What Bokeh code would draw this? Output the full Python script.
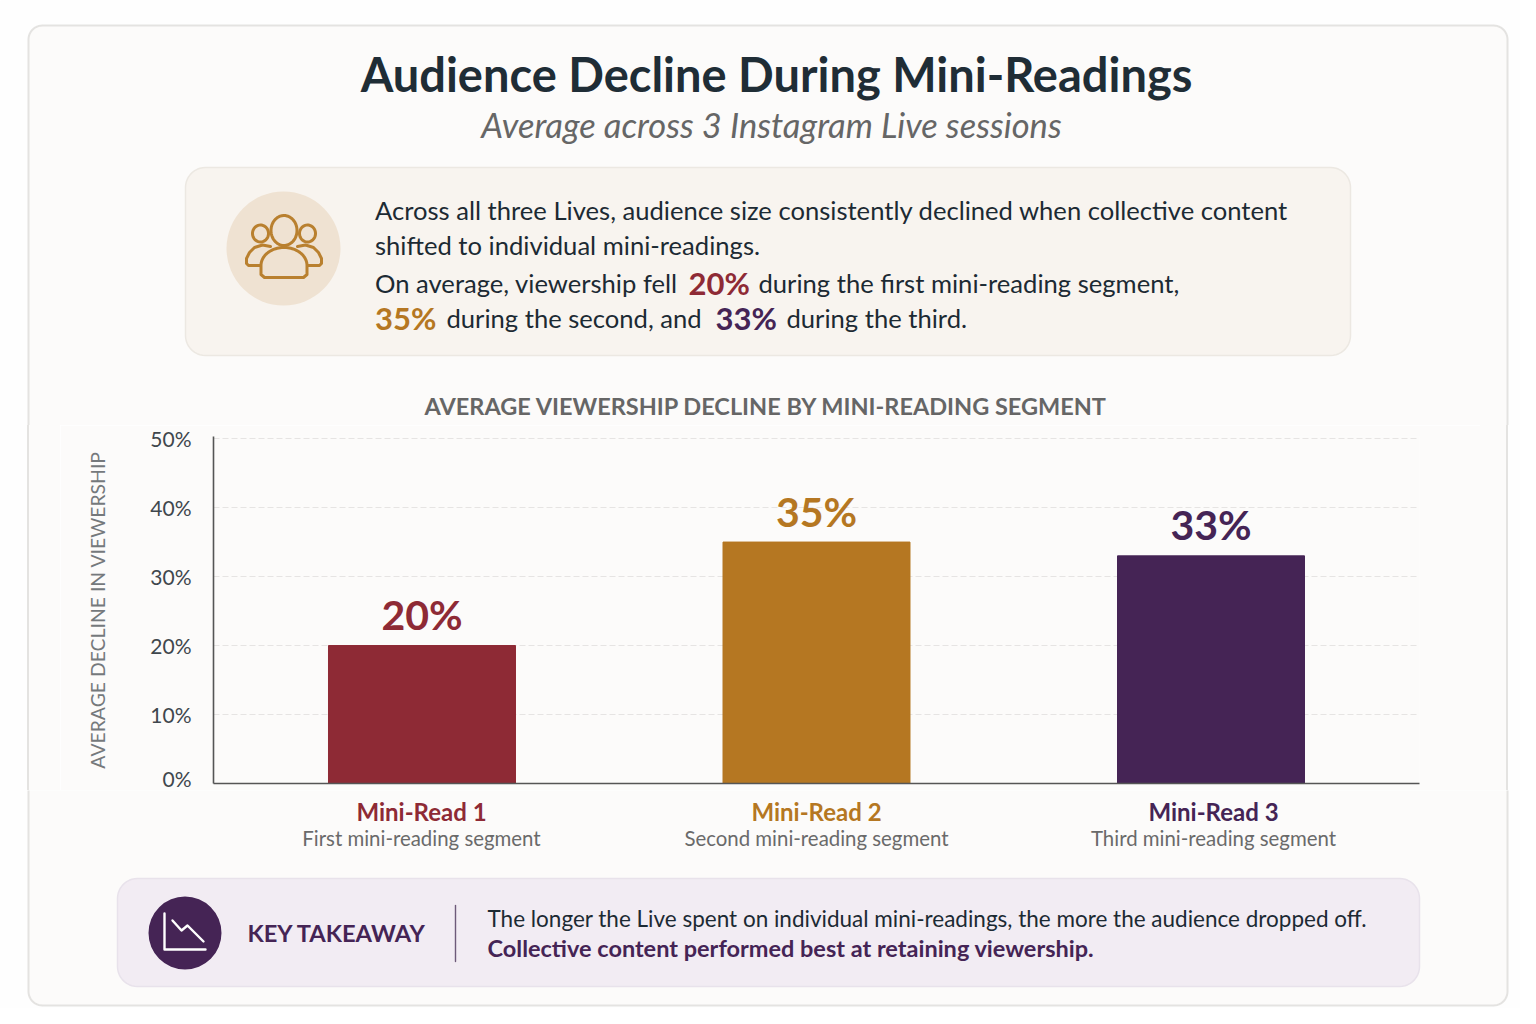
import numpy as np
from bokeh.plotting import figure
from bokeh.layouts import column, row
from bokeh.models import ColumnDataSource, Div, FactorRange, Range1d, FixedTicker
from bokeh.core.properties import value
from bokeh.embed import file_html
from bokeh.resources import INLINE

categories = ["Mini-Read 1", "Mini-Read 2", "Mini-Read 3"]
descriptions = ["First mini-reading segment", "Second mini-reading segment", "Third mini-reading segment"]
declines = [20, 35, 33]
y_ticks = [0, 10, 20, 30, 40, 50]
y_tick_labels = {t: f"{t}%" for t in y_ticks}

RED, ORANGE, PURPLE = "#8E2A35", "#B57722", "#452455"
INK = "#1C2A33"
CARD = "#FCFBFA"
OUTER = "#FEFEFE"
EDGE = "#E4E3E1"
colors = [RED, ORANGE, PURPLE]
FONT = "Lato"
W, H = 1520, 1008
TOP_END, CHART_END, L_END, R_START = 425, 790, 60, 1480


def rounded(x0, y0, x1, y1, r):
    xs, ys = [], []
    for cx, cy, a in [(x1 - r, y0 + r, -90), (x1 - r, y1 - r, 0), (x0 + r, y1 - r, 90), (x0 + r, y0 + r, 180)]:
        t = np.radians(np.linspace(a, a + 90, 12))
        xs += list(cx + r * np.cos(t))
        ys += list(cy + r * np.sin(t))
    return xs, ys


def deco(x0, x1, y0, y1):
    f = figure(width=x1 - x0, height=y1 - y0, output_backend="svg", toolbar_location=None,
               x_range=Range1d(x0, x1), y_range=Range1d(y1, y0), min_border=0,
               x_axis_location=None, y_axis_location=None,
               background_fill_color=OUTER, border_fill_color=OUTER)
    f.outline_line_color = None
    f.grid.visible = False
    f.patch(*rounded(28, 25, 1507, 1005, 14), fill_color=CARD, line_color=EDGE, line_width=2)
    return f


def panel(f, x0, y0, x1, y1, fill, edge, r=20):
    f.patch(*rounded(x0, y0, x1, y1, r), fill_color=fill, line_color=edge, line_width=1.5)


def txt(f, x, y, s, size, color=INK, style="normal", align="left"):
    f.text(x=[x], y=[y], text=[s], text_font=value(FONT), text_font_size=f"{size}px",
           text_color=color, text_font_style=style, text_align=align, text_baseline="middle")


def stroke(f, pts, color, lw=3):
    f.line([a for a, _ in pts], [b for _, b in pts], line_color=color, line_width=lw,
           line_join="round", line_cap="round")


def ell(cx, cy, rx, ry, t0=0, t1=2 * np.pi):
    t = np.linspace(t0, t1, 48)
    return list(zip(cx + rx * np.cos(t), cy + ry * np.sin(t)))


# ---- header ----
top = deco(0, W, 0, TOP_END)
txt(top, 776, 73, "Audience Decline During Mini-Readings", 47, "#1F2D36", "bold", "center")
txt(top, 771, 124, "Average across 3 Instagram Live sessions", 34.5, "#666666", "italic", "center")
panel(top, 185, 167, 1350, 355, "#F8F4EF", "#ECE8E2")
top.circle(x=[283], y=[248], radius=57, fill_color="#EFE2D2", line_color=None)
txt(top, 374.5, 209, "Across all three Lives, audience size consistently declined when collective content", 25.6)
txt(top, 374.5, 244, "shifted to individual mini-readings.", 25.6)
txt(top, 374.5, 282, "On average, viewership fell", 25.6)
txt(top, 688, 282, "20%", 31, RED, "bold")
txt(top, 758, 282, "during the first mini-reading segment,", 25.6)
txt(top, 374.5, 317, "35%", 31, ORANGE, "bold")
txt(top, 446, 317, "during the second, and", 25.6)
txt(top, 715, 317, "33%", 31, PURPLE, "bold")
txt(top, 786, 317, "during the third.", 25.6)
txt(top, 766, 405, "AVERAGE VIEWERSHIP DECLINE BY MINI-READING SEGMENT", 23.5, "#666666", "bold", "center")
IC = "#B9802F"
stroke(top, ell(283.5, 230, 13, 15), IC)
stroke(top, ell(260, 233, 8, 8.5), IC)
stroke(top, ell(307, 233, 8, 8.5), IC)
stroke(top, ell(283.5, 265, 23, 18, np.pi, 2 * np.pi) + [(306.5, 274), (303, 277), (264, 277), (260.5, 274), (260.5, 265)], IC)
stroke(top, [(270, 246), (262, 244.5), (254, 247), (249, 252), (246, 258), (246, 263), (248, 265), (260, 265)], IC)
stroke(top, [(297, 246), (305, 244.5), (313, 247), (318, 252), (321, 258), (321, 263), (319, 265), (307, 265)], IC)

# ---- chart ----
p = figure(width=R_START - L_END, height=CHART_END - TOP_END, output_backend="svg", toolbar_location=None,
           x_range=FactorRange(factors=categories, range_padding=0.0285, range_padding_units="absolute"),
           y_range=Range1d(0, 50.3), min_border_left=213 - L_END, min_border_right=R_START - 1419,
           min_border_top=436 - TOP_END, min_border_bottom=CHART_END - 783,
           background_fill_color=CARD, border_fill_color=CARD)
p.outline_line_color = None
p.xgrid.visible = False
p.ygrid.grid_line_color = "#E6E4E3"
p.ygrid.grid_line_dash = "6 3"
p.ygrid.grid_line_width = 1.2
p.yaxis.ticker = FixedTicker(ticks=y_ticks)
p.yaxis.major_label_overrides = y_tick_labels
p.yaxis.major_tick_line_color = None
p.yaxis.minor_tick_line_color = None
p.yaxis.major_label_standoff = 16
p.yaxis.major_label_text_font = FONT
p.yaxis.major_label_text_font_size = "21px"
p.yaxis.major_label_text_color = "#3F474D"
p.yaxis.axis_line_color = "#555555"
p.yaxis.axis_line_width = 1.6
p.yaxis.axis_label = "AVERAGE DECLINE IN VIEWERSHIP"
p.yaxis.axis_label_text_font = FONT
p.yaxis.axis_label_text_font_style = "normal"
p.yaxis.axis_label_text_font_size = "19.4px"
p.yaxis.axis_label_text_color = "#75797C"
p.yaxis.axis_label_standoff = 38
p.xaxis.major_label_text_color = None
p.xaxis.major_label_text_font_size = "1px"
p.xaxis.major_label_standoff = 0
p.xaxis.major_tick_line_color = None
p.xaxis.minor_tick_line_color = None
p.xaxis.axis_line_color = "#555555"
p.xaxis.axis_line_width = 1.6

src = ColumnDataSource(dict(cat=categories, val=declines, col=colors, lab=[f"{v}%" for v in declines]))
p.vbar(x="cat", top="val", bottom=0, width=0.474, color="col", source=src)
p.text(x="cat", y="val", text="lab", text_color="col", source=src, text_align="center",
       text_baseline="middle", y_offset=-31, text_font=value(FONT), text_font_style="bold",
       text_font_size="41px")


def strip(width, css):
    h = CHART_END - TOP_END
    return Div(text=f'<div style="width:{width}px;height:{h}px;background:{css}"></div>',
               width=width, height=h, margin=0)


left_strip = strip(L_END, f"linear-gradient(to right,{OUTER} 27px,{EDGE} 27px,{EDGE} 29px,{CARD} 29px)")
right_strip = strip(W - R_START, f"linear-gradient(to right,{CARD} 26px,{EDGE} 26px,{EDGE} 28px,{OUTER} 28px)")

# ---- footer ----
bot = deco(0, W, CHART_END, H)
for cx, name, desc, c in zip([421, 816, 1213], categories, descriptions, colors):
    txt(bot, cx, 811, name, 24, c, "bold", "center")
    txt(bot, cx, 837, desc, 20.4, "#6A6A6A", "normal", "center")
panel(bot, 117, 878, 1419, 986, "#F2ECF3", "#E8E2EB")
bot.circle(x=[184.5], y=[932.5], radius=36.5, fill_color=PURPLE, line_color=None)
stroke(bot, [(164, 913), (164, 949), (205, 949)], "#FFFFFF", 2.4)
stroke(bot, [(172, 920), (181, 930), (187, 925), (203, 941)], "#FFFFFF", 2.4)
stroke(bot, [(455, 905), (455, 961)], "#6E5A79", 1.4)
txt(bot, 247, 932, "KEY TAKEAWAY", 23.7, PURPLE, "bold")
txt(bot, 487, 918, "The longer the Live spent on individual mini-readings, the more the audience dropped off.", 22.5)
txt(bot, 487, 947, "Collective content performed best at retaining viewership.", 23.5, PURPLE, "bold")

page = column(top, row(left_strip, p, right_strip), bot)
open("out.html", "w").write(file_html(page, INLINE))
